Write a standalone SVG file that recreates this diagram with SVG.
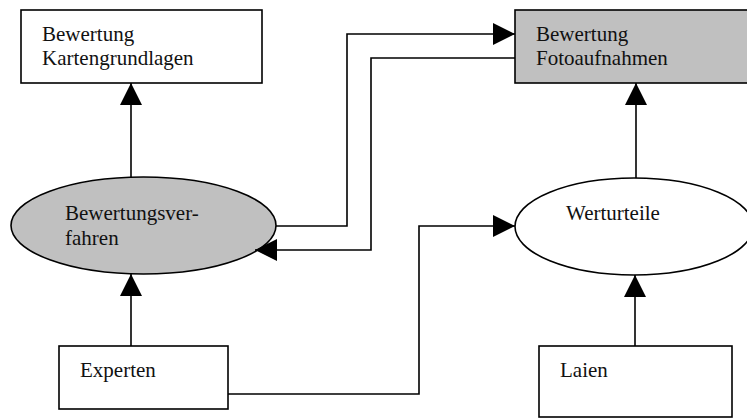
<svg xmlns="http://www.w3.org/2000/svg" width="747" height="419" viewBox="0 0 747 419">
<style>
.box{fill:#ffffff;stroke:#000;stroke-width:1.6}
.grey{fill:#c0c0c0}
.lbl{font-family:"Liberation Serif","Times New Roman",serif;font-size:21px;fill:#111}
.conn{fill:none;stroke:#000;stroke-width:1.6}
</style>
<defs>
<marker id="arr" markerUnits="userSpaceOnUse" markerWidth="22" markerHeight="22" viewBox="0 0 20 20" refX="20" refY="10" orient="auto">
<path d="M0,0 L20,10 L0,20 Z" fill="#000"/>
</marker>
</defs>
<rect x="0" y="0" width="747" height="419" fill="#fff"/>
<g id="n-kartengrundlagen">
<rect class="box" x="21" y="10" width="241" height="73"/>
<text class="lbl" x="42" y="41">Bewertung</text>
<text class="lbl" x="42" y="65">Kartengrundlagen</text>
</g>
<g id="n-fotoaufnahmen">
<rect class="box grey" x="515" y="10" width="240" height="73"/>
<text class="lbl" x="536" y="41">Bewertung</text>
<text class="lbl" x="536" y="65">Fotoaufnahmen</text>
</g>
<g id="n-bewertungsverfahren">
<ellipse class="box grey" cx="143.5" cy="225.5" rx="132.5" ry="48.5"/>
<text class="lbl" x="65" y="220">Bewertungsver-</text>
<text class="lbl" x="65" y="245">fahren</text>
</g>
<g id="n-werturteile">
<ellipse class="box" cx="634" cy="226.5" rx="119" ry="48.5"/>
<text class="lbl" x="566" y="220">Werturteile</text>
</g>
<g id="n-experten">
<rect class="box" x="59" y="346" width="169" height="63"/>
<text class="lbl" x="80" y="377">Experten</text>
</g>
<g id="n-laien">
<rect class="box" x="539" y="346" width="193" height="71"/>
<text class="lbl" x="560" y="377">Laien</text>
</g>
<g id="connectors">
<path class="conn" d="M131,177 L131,83" marker-end="url(#arr)"/>
<path class="conn" d="M636,178 L636,83" marker-end="url(#arr)"/>
<path class="conn" d="M131,346 L131,274" marker-end="url(#arr)"/>
<path class="conn" d="M635,346 L635,275" marker-end="url(#arr)"/>
<path class="conn" d="M276,226 L347,226 L347,34 L515,34" marker-end="url(#arr)"/>
<path class="conn" d="M515,58 L371,58 L371,250 L255,250" marker-end="url(#arr)"/>
<path class="conn" d="M228,394 L419,394 L419,226 L515,226" marker-end="url(#arr)"/>
</g>
</svg>
